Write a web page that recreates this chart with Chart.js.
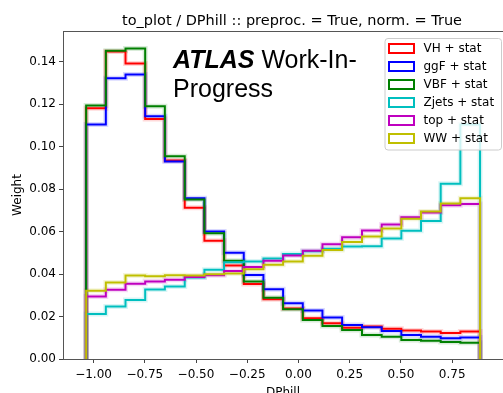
<!DOCTYPE html>
<html>
<head>
<meta charset="utf-8">
<script src="https://cdn.jsdelivr.net/npm/chart.js@4.4.1/dist/chart.umd.min.js"></script>
<style>
  html, body { margin: 0; padding: 0; background: #fff; }
</style>
</head>
<body>
<canvas id="dphill" width="503" height="393"></canvas>
<script>
// DPhill bin edges (20 bins)
const binEdges = [-1.036, -0.940, -0.844, -0.748, -0.652, -0.555, -0.459, -0.363, -0.267, -0.171,
                  -0.075, 0.021, 0.117, 0.213, 0.310, 0.406, 0.502, 0.598, 0.694, 0.790, 0.886];

// normalised weights per bin
const vh    = [0.1181, 0.1449, 0.1392, 0.1131, 0.0935, 0.0712, 0.0557, 0.0440, 0.0353, 0.0282,
               0.0238, 0.0192, 0.0168, 0.0147, 0.0153, 0.0142, 0.0134, 0.0129, 0.0123, 0.0129];
const ggf   = [0.1104, 0.1323, 0.1340, 0.1144, 0.0930, 0.0757, 0.0601, 0.0501, 0.0396, 0.0329,
               0.0263, 0.0228, 0.0195, 0.0160, 0.0150, 0.0132, 0.0113, 0.0105, 0.0098, 0.0101];
const vbf   = [0.1194, 0.1452, 0.1463, 0.1191, 0.0955, 0.0751, 0.0592, 0.0463, 0.0365, 0.0289,
               0.0234, 0.0184, 0.0156, 0.0137, 0.0113, 0.0105, 0.0090, 0.0086, 0.0080, 0.0076];
const zjets = [0.0212, 0.0247, 0.0278, 0.0327, 0.0341, 0.0384, 0.0420, 0.0456, 0.0459, 0.0473,
               0.0494, 0.0508, 0.0519, 0.0530, 0.0531, 0.0568, 0.0604, 0.0650, 0.0826, 0.1104];
const top_  = [0.0294, 0.0326, 0.0354, 0.0365, 0.0373, 0.0386, 0.0394, 0.0415, 0.0433, 0.0463,
               0.0487, 0.0510, 0.0541, 0.0573, 0.0605, 0.0633, 0.0668, 0.0690, 0.0724, 0.0730];
const ww    = [0.0322, 0.0360, 0.0393, 0.0390, 0.0395, 0.0393, 0.0399, 0.0403, 0.0423, 0.0444,
               0.0459, 0.0486, 0.0513, 0.0551, 0.0577, 0.0615, 0.0661, 0.0695, 0.0732, 0.0757];

const seriesNames = ["VH + stat", "ggF + stat", "VBF + stat", "Zjets + stat", "top + stat", "WW + stat"];
const seriesValues = [vh, ggf, vbf, zjets, top_, ww];
const seriesColors = ["#ff0000", "#0000ff", "#008000", "#00bfbf", "#bf00bf", "#bfbf00"];
const bandColors = ["rgba(255,0,0,0.15)", "rgba(0,0,255,0.15)", "rgba(0,128,0,0.15)",
                    "rgba(0,191,191,0.15)", "rgba(191,0,191,0.15)", "rgba(191,191,0,0.15)"];

const xTicks = [-1.0, -0.75, -0.5, -0.25, 0.0, 0.25, 0.5, 0.75];
const yTicks = [0.0, 0.02, 0.04, 0.06, 0.08, 0.10, 0.12, 0.14];

const plotTitle = "to_plot / DPhill :: preproc. = True, norm. = True";

// histtype="step": outline that drops to zero at both ends
function stepPoints(values) {
  const last = binEdges.length - 1;
  const pts = [{ x: binEdges[0], y: 0 }];
  values.forEach((v, i) => pts.push({ x: binEdges[i], y: v }));
  pts.push({ x: binEdges[last], y: values[values.length - 1] });
  pts.push({ x: binEdges[last], y: 0 });
  return pts;
}

const datasets = [];
seriesValues.forEach((vals, i) => {
  // faint stat band under the outline
  datasets.push({
    label: seriesNames[i] + " band",
    data: stepPoints(vals),
    borderColor: bandColors[i],
    borderWidth: 5,
    stepped: true,
    pointRadius: 0,
    fill: false,
    order: 20 + i,
  });
  datasets.push({
    label: seriesNames[i],
    data: stepPoints(vals),
    borderColor: seriesColors[i],
    borderWidth: 2,
    stepped: true,
    pointRadius: 0,
    fill: false,
    order: 6 - i,
  });
});

const fmtTick = (v) => (v < 0 ? "\u2212" : "") + Math.abs(v).toFixed(2);

// top spine, title, ATLAS label and legend box
const extras = {
  id: "extras",
  afterDraw(chart) {
    const { ctx, chartArea: a } = chart;
    ctx.save();

    ctx.strokeStyle = "#555";
    ctx.lineWidth = 1;
    ctx.beginPath();
    ctx.moveTo(a.left, a.top + 0.5);
    ctx.lineTo(a.right, a.top + 0.5);
    ctx.stroke();

    ctx.fillStyle = "#000";
    ctx.font = "14.5px 'DejaVu Sans'";
    ctx.textAlign = "center";
    ctx.textBaseline = "alphabetic";
    ctx.fillText(plotTitle, 292, 25);

    ctx.textAlign = "left";
    ctx.font = "italic bold 25px 'Liberation Sans'";
    ctx.fillText("ATLAS", 173, 68);
    const w = ctx.measureText("ATLAS ").width;
    ctx.font = "25px 'Liberation Sans'";
    ctx.fillText("Work-In-", 173 + w, 68);
    ctx.fillText("Progress", 173, 97);

    // legend
    const lx = 385, ly = 38.5, lw = 116.5, lh = 111.5;
    ctx.beginPath();
    ctx.roundRect(lx, ly, lw, lh, 3);
    ctx.fillStyle = "rgba(255,255,255,0.8)";
    ctx.fill();
    ctx.strokeStyle = "#cccccc";
    ctx.stroke();
    ctx.font = "12px 'DejaVu Sans'";
    ctx.textBaseline = "middle";
    seriesNames.forEach((name, i) => {
      const cy = 48.5 + 18 * i;
      ctx.strokeStyle = seriesColors[i];
      ctx.lineWidth = 2;
      ctx.strokeRect(389, cy - 4.5, 25, 9);
      ctx.fillStyle = "#000";
      ctx.fillText(name, 423.5, cy + 0.5);
    });

    ctx.restore();
  }
};

new Chart(document.getElementById("dphill").getContext("2d"), {
  type: "line",
  data: { datasets },
  options: {
    responsive: false,
    animation: false,
    devicePixelRatio: 1,
    layout: { padding: { top: 31, right: -7, left: 0, bottom: 0 } },
    plugins: {
      legend: { display: false },
      tooltip: { enabled: false },
    },
    scales: {
      x: {
        type: "linear",
        min: -1.149,
        max: 0.998,
        afterBuildTicks: (s) => { s.ticks = xTicks.map((v) => ({ value: v })); },
        afterFit: (s) => { s.height = 34; },
        ticks: {
          autoSkip: false,
          maxRotation: 0,
          padding: 5,
          color: "#000",
          font: { family: "DejaVu Sans", size: 12 },
          callback: fmtTick,
        },
        grid: { drawOnChartArea: false, drawTicks: true, tickLength: 4, tickColor: "#444" },
        border: { color: "#555", width: 1 },
        title: {
          display: true,
          text: "DPhill",
          color: "#000",
          font: { family: "DejaVu Sans", size: 12 },
          padding: { top: 0, bottom: -7 },
        },
      },
      y: {
        type: "linear",
        min: 0,
        max: 0.1545,
        afterBuildTicks: (s) => { s.ticks = yTicks.map((v) => ({ value: v })); },
        afterFit: (s) => { s.width = 63; },
        ticks: {
          padding: 3,
          color: "#000",
          font: { family: "DejaVu Sans", size: 12 },
          callback: fmtTick,
        },
        grid: { drawOnChartArea: false, drawTicks: true, tickLength: 4, tickColor: "#444" },
        border: { color: "#555", width: 1 },
        title: {
          display: true,
          text: "Weight",
          color: "#000",
          font: { family: "DejaVu Sans", size: 12 },
          padding: { top: 11, bottom: 0 },
        },
      },
    },
  },
  plugins: [extras],
});
</script>
</body>
</html>
